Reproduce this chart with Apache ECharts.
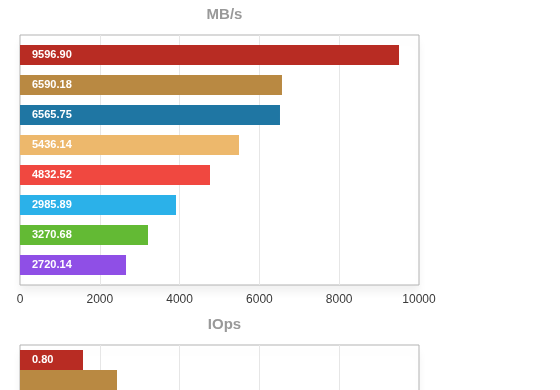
<!DOCTYPE html>
<html>
<head>
<meta charset="utf-8">
<script src="https://cdn.jsdelivr.net/npm/echarts@6/dist/echarts.min.js"></script>
<style>html,body{margin:0;padding:0;background:#fff}#c{width:560px;height:390px}</style>
</head>
<body>
<div id="c"></div>
<script>
var categories = ['A', 'B', 'C', 'D', 'E', 'F', 'G', 'H'];
var mbValues = [9499, 6566, 6516, 5489, 4762, 3910, 3208, 2657];
var mbLabels = ['9596.90', '6590.18', '6565.75', '5436.14', '4832.52', '2985.89', '3270.68', '2720.14'];
var iopsCategories = ['A', 'B'];
var iopsValues = [1579, 2431];
var iopsLabels = ['0.80', ''];
var xTicks = [0, 2000, 4000, 6000, 8000, 10000];
var colors = ['#b82c23', '#b98942', '#1f76a3', '#edb86c', '#f04840', '#2bb1e9', '#63ba34', '#8f4fe6'];

var FONT = 'Liberation Sans, Arial, Helvetica, sans-serif';

function mkData(vals) {
  return vals.map(function (v, i) { return { value: v, itemStyle: { color: colors[i] } }; });
}

var chart = echarts.init(document.getElementById('c'), null, { renderer: 'canvas' });

var frameAxis = function (gi, showLabels) {
  return {
    type: 'value', gridIndex: gi, min: xTicks[0], max: xTicks[xTicks.length - 1], interval: 2000,
    axisLine: { show: false }, axisTick: { show: false },
    axisLabel: { show: showLabels, color: '#3a3a3a', fontSize: 12, fontFamily: FONT, margin: 9,
      formatter: function (v) { return String(v); } },
    splitLine: { show: true, showMinLine: false, showMaxLine: false, lineStyle: { color: '#e6e6e6', width: 1 } }
  };
};
var dataAxis = function (gi) {
  return {
    type: 'value', gridIndex: gi, min: xTicks[0], max: xTicks[xTicks.length - 1],
    show: false, splitLine: { show: false }
  };
};
var frameGrid = function (top) {
  return {
    left: 20, top: top, width: 399, height: 250, show: true,
    borderColor: '#b3b3b3', borderWidth: 1, backgroundColor: '#fff',
    shadowColor: 'rgba(0,0,0,0.06)', shadowBlur: 8, shadowOffsetY: 7
  };
};

chart.setOption({
  animation: false,
  title: [
    { text: 'MB/s', left: 219.5, textAlign: 'center', top: 2, textStyle: { color: '#999', fontSize: 15, fontWeight: 'bold', fontFamily: FONT } },
    { text: 'IOps', left: 219.5, textAlign: 'center', top: 312, textStyle: { color: '#999', fontSize: 15, fontWeight: 'bold', fontFamily: FONT } }
  ],
  grid: [
    frameGrid(35),
    { left: 20, top: 40, width: 399, height: 240 },
    frameGrid(345),
    { left: 20, top: 350, width: 399, height: 60 }
  ],
  xAxis: [frameAxis(0, true), dataAxis(1), frameAxis(2, true), dataAxis(3)],
  yAxis: [
    { type: 'category', gridIndex: 0, show: false, data: categories },
    { type: 'category', gridIndex: 1, show: false, inverse: true, data: categories },
    { type: 'category', gridIndex: 2, show: false, data: iopsCategories },
    { type: 'category', gridIndex: 3, show: false, inverse: true, data: iopsCategories }
  ],
  series: [
    {
      type: 'bar', xAxisIndex: 1, yAxisIndex: 1, barWidth: 20, data: mkData(mbValues),
      label: {
        show: true, position: 'insideLeft', distance: 12, color: '#fff', fontSize: 11, fontWeight: 'bold', fontFamily: FONT,
        formatter: function (p) { return mbLabels[p.dataIndex]; }
      }
    },
    {
      type: 'bar', xAxisIndex: 3, yAxisIndex: 3, barWidth: 20, data: mkData(iopsValues),
      label: {
        show: true, position: 'insideLeft', distance: 12, color: '#fff', fontSize: 11, fontWeight: 'bold', fontFamily: FONT,
        formatter: function (p) { return iopsLabels[p.dataIndex]; }
      }
    }
  ]
});
</script>
</body>
</html>
